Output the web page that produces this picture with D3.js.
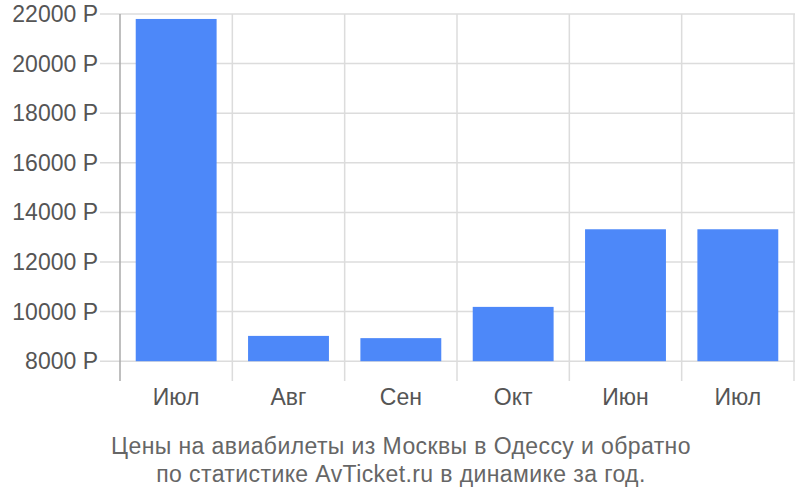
<!DOCTYPE html>
<html><head><meta charset="utf-8">
<script src="https://cdn.jsdelivr.net/npm/d3@7"></script>
<style>body{margin:0;background:#fff;} svg{display:block;font-family:"Liberation Sans", Arial, sans-serif;}</style>
</head><body>
<svg id="c" width="800" height="500"></svg>
<script>
const categories = ["Июл","Авг","Сен","Окт","Июн","Июл"];
const prices = [21800, 9020, 8930, 10190, 13320, 13320];
const yTicks = [8000,10000,12000,14000,16000,18000,20000,22000];
const titleLines = ["Цены на авиабилеты из Москвы в Одессу и обратно","по статистике AvTicket.ru в динамике за год."];

(function(){
const svg = d3.select("#c");
const pLeft = 120, pRight = 794, pTop = 14, pBottom = 361.2;
const x = d3.scaleBand().domain(d3.range(categories.length)).range([pLeft,pRight]).paddingInner(0.28).paddingOuter(0.14);
const y = d3.scaleLinear().domain([8000,22000]).range([pBottom,pTop]);

svg.append("g").selectAll("line").data(yTicks).join("line")
  .attr("x1",100).attr("x2",795).attr("y1",d=>y(d)).attr("y2",d=>y(d))
  .attr("stroke","#dcdcdc").attr("stroke-width",1.5);
const step = x.step();
svg.append("g").selectAll("line").data(d3.range(categories.length+1)).join("line")
  .attr("x1",i=>pLeft+i*step).attr("x2",i=>pLeft+i*step).attr("y1",pTop).attr("y2",381)
  .attr("stroke",(d,i)=>i===0?"#aaaaaa":"#dcdcdc").attr("stroke-width",1.5);

svg.append("g").selectAll("rect").data(prices).join("rect")
  .attr("x",(d,i)=>x(i)).attr("width",x.bandwidth())
  .attr("y",d=>y(d)).attr("height",d=>pBottom-y(d))
  .attr("fill","#4d88f9");

svg.append("g").selectAll("text").data(yTicks).join("text")
  .attr("x",98).attr("y",d=>y(d)+8).attr("text-anchor","end")
  .attr("font-size",23).attr("fill","#555").text(d=>d+" Р");

svg.append("g").selectAll("text").data(categories).join("text")
  .attr("x",(d,i)=>x(i)+x.bandwidth()/2).attr("y",405).attr("text-anchor","middle")
  .attr("font-size",23).attr("fill","#555").text(d=>d);

svg.append("g").selectAll("text").data(titleLines).join("text")
  .attr("x",401).attr("y",(d,i)=>454+i*28).attr("text-anchor","middle")
  .attr("font-size",23).attr("letter-spacing",0.4).attr("fill","#666").text(d=>d);
})();
</script>
</body></html>
